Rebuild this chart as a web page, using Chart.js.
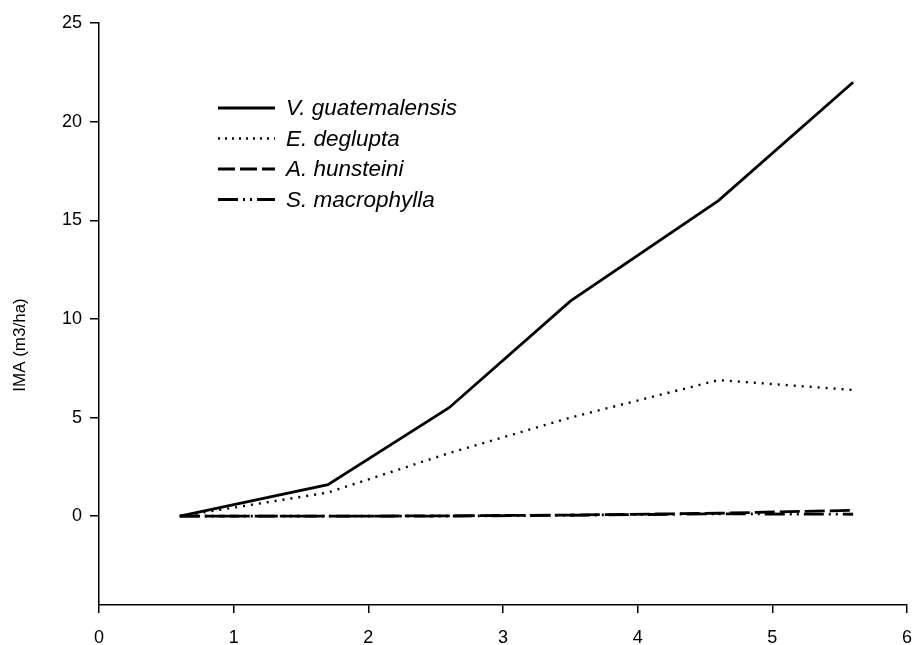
<!DOCTYPE html>
<html>
<head>
<meta charset="utf-8">
<title>IMA</title>
<script src="https://cdn.jsdelivr.net/npm/chart.js@4.4.1/dist/chart.umd.min.js"></script>
<style>
  html, body { margin: 0; padding: 0; background: #fff; }
  #wrap { width: 914px; height: 645px; position: relative; }
</style>
</head>
<body>
<div id="wrap"><canvas id="chart"></canvas></div>
<script>
// age (years) and mean annual increment per species
const ages = [0.6, 1.7, 2.6, 3.5, 4.6, 5.6];
const guatemalensis = [0, 1.6, 5.5, 10.9, 16.0, 22.0];
const deglupta = [0, 1.2, 3.2, 5.0, 6.9, 6.4];
const hunsteini = [0, 0, 0.02, 0.06, 0.15, 0.3];
const macrophylla = [0, 0, 0.01, 0.05, 0.12, 0.1];

const speciesNames = ['V. guatemalensis', 'E. deglupta', 'A. hunsteini', 'S. macrophylla'];
const yTicks = [0, 5, 10, 15, 20, 25];
const xTicks = [0, 1, 2, 3, 4, 5, 6];
const yTitle = 'IMA (m3/ha)';

const font = { family: 'Liberation Sans, Arial, sans-serif', size: 18 };

function toPoints(values) {
  return ages.map((a, i) => ({ x: a, y: values[i] }));
}

const dashes = [[], [2, 6], [20, 5], [20, 5, 2, 5, 2, 5]];
const legendDashes = [[], [2, 5], [17, 5], [20, 5, 2, 5, 2, 5]];
const allSeries = [guatemalensis, deglupta, hunsteini, macrophylla];

const datasets = allSeries.map((vals, i) => ({
  label: speciesNames[i],
  data: toPoints(vals),
  borderColor: '#000',
  backgroundColor: '#000',
  borderWidth: i === 1 ? 2.4 : 2.8,
  borderDash: dashes[i],
  borderCapStyle: 'butt',
  pointRadius: 0,
  tension: 0,
  fill: false,
}));

// legend inside the plot and rotated y title
const extras = {
  id: 'extras',
  afterDraw(chart) {
    const ctx = chart.ctx;
    ctx.save();
    ctx.strokeStyle = '#000';
    ctx.fillStyle = '#000';
    chart.data.datasets.forEach((ds, i) => {
      const y = 108 + i * 30.5;
      ctx.lineWidth = ds.borderWidth;
      ctx.setLineDash(legendDashes[i]);
      ctx.lineCap = 'butt';
      ctx.beginPath();
      ctx.moveTo(218, y);
      ctx.lineTo(275, y);
      ctx.stroke();
      ctx.setLineDash([]);
      ctx.font = 'italic 22.5px Liberation Sans, Arial, sans-serif';
      ctx.textBaseline = 'middle';
      ctx.textAlign = 'left';
      ctx.fillText(ds.label, 286, y + 1);
    });
    ctx.translate(20, 345);
    ctx.rotate(-Math.PI / 2);
    ctx.font = '17px Liberation Sans, Arial, sans-serif';
    ctx.textAlign = 'center';
    ctx.textBaseline = 'middle';
    ctx.fillText(yTitle, 0, 0);
    ctx.restore();
  }
};

new Chart(document.getElementById('chart'), {
  type: 'line',
  data: { datasets },
  options: {
    responsive: true,
    maintainAspectRatio: false,
    animation: false,
    layout: { padding: { top: 23, right: 7, left: 0, bottom: 0 } },
    plugins: { legend: { display: false }, tooltip: { enabled: false } },
    scales: {
      x: {
        type: 'linear',
        min: 0,
        max: 6,
        afterBuildTicks: s => { s.ticks = xTicks.map(v => ({ value: v })); },
        afterFit: s => { s.height = 40; s.paddingLeft = 0; s.paddingRight = 0; },
        border: { color: '#000', width: 1.5 },
        grid: { drawOnChartArea: false, drawTicks: true, tickLength: 8, color: '#000', lineWidth: 1.5 },
        ticks: { color: '#000', font, padding: 14, maxRotation: 0 },
      },
      y: {
        type: 'linear',
        min: -4.5,
        max: 25,
        afterBuildTicks: s => { s.ticks = yTicks.map(v => ({ value: v })); },
        afterFit: s => { s.width = 99; s.paddingTop = 0; s.paddingBottom = 0; },
        border: { color: '#000', width: 1.5 },
        grid: { drawOnChartArea: false, drawTicks: true, tickLength: 9, color: '#000', lineWidth: 1.5 },
        ticks: { color: '#000', font, padding: 8 },
      },
    },
  },
  plugins: [extras],
});
</script>
</body>
</html>
